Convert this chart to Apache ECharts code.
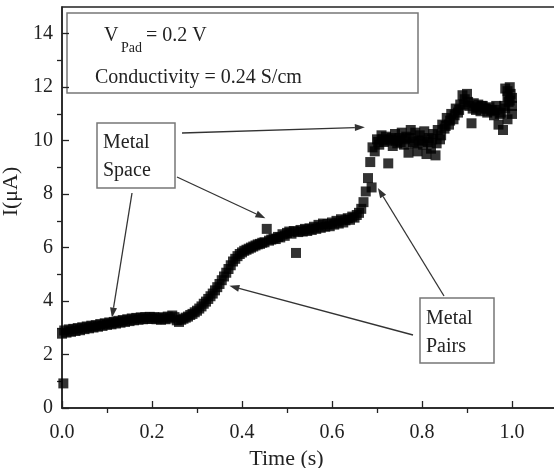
<!DOCTYPE html>
<html>
<head>
<meta charset="utf-8">
<script src="https://cdn.jsdelivr.net/npm/echarts@6/dist/echarts.min.js"></script>
<style>
  html, body { margin: 0; padding: 0; background: #fff; }
  #chart { width: 554px; height: 468px; }
</style>
</head>
<body>
<div id="chart"></div>
<script>
// time axis (s)
const timeS = [
  0, 0.005, 0.01, 0.015, 0.02, 0.025, 0.03, 0.035, 0.04, 0.045,
  0.05, 0.055, 0.06, 0.065, 0.07, 0.075, 0.08, 0.085, 0.09, 0.095,
  0.1, 0.105, 0.11, 0.115, 0.12, 0.125, 0.13, 0.135, 0.14, 0.145,
  0.15, 0.155, 0.16, 0.165, 0.17, 0.175, 0.18, 0.185, 0.19, 0.195,
  0.2, 0.205, 0.21, 0.215, 0.22, 0.225, 0.23, 0.235, 0.24, 0.245,
  0.25, 0.255, 0.26, 0.265, 0.27, 0.275, 0.28, 0.285, 0.29, 0.295,
  0.3, 0.305, 0.31, 0.315, 0.32, 0.325, 0.33, 0.335, 0.34, 0.345,
  0.35, 0.355, 0.36, 0.365, 0.37, 0.375, 0.38, 0.385, 0.39, 0.395,
  0.4, 0.405, 0.41, 0.415, 0.42, 0.425, 0.43, 0.435, 0.44, 0.445,
  0.45, 0.455, 0.46, 0.465, 0.47, 0.475, 0.48, 0.485, 0.49, 0.495,
  0.5, 0.505, 0.51, 0.515, 0.52, 0.525, 0.53, 0.535, 0.54, 0.545,
  0.55, 0.555, 0.56, 0.565, 0.57, 0.575, 0.58, 0.585, 0.59, 0.595,
  0.6, 0.605, 0.61, 0.615, 0.62, 0.625, 0.63, 0.635, 0.64, 0.645,
  0.65, 0.655, 0.66, 0.665, 0.67, 0.675, 0.68, 0.685, 0.69, 0.695,
  0.7, 0.705, 0.71, 0.715, 0.72, 0.725, 0.73, 0.735, 0.74, 0.745,
  0.75, 0.755, 0.76, 0.765, 0.77, 0.775, 0.78, 0.785, 0.79, 0.795,
  0.8, 0.805, 0.81, 0.815, 0.82, 0.825, 0.83, 0.835, 0.84, 0.845,
  0.85, 0.855, 0.86, 0.865, 0.87, 0.875, 0.88, 0.885, 0.89, 0.895,
  0.9, 0.905, 0.91, 0.915, 0.92, 0.925, 0.93, 0.935, 0.94, 0.945,
  0.95, 0.955, 0.96, 0.965, 0.97, 0.975, 0.98, 0.985, 0.99, 0.995,
  1.0,
  0.003, 0.688, 0.99, 0.997, 1.0, 0.985, 0.995, 0.99, 1.0
]
// current (uA)
const currentUA = [
  2.78, 2.90, 2.82, 2.94, 2.85, 2.96, 2.88, 2.99, 2.91, 3.02,
  2.95, 3.05, 2.98, 3.08, 3.01, 3.10, 3.04, 3.14, 3.07, 3.17,
  3.11, 3.20, 3.13, 3.22, 3.16, 3.26, 3.19, 3.29, 3.22, 3.32,
  3.25, 3.35, 3.28, 3.37, 3.30, 3.39, 3.32, 3.40, 3.33, 3.41,
  3.34, 3.40, 3.32, 3.38, 3.30, 3.39, 3.32, 3.42, 3.35, 3.46,
  3.40, 3.28, 3.22, 3.30, 3.34, 3.38, 3.42, 3.48, 3.52, 3.58,
  3.64, 3.72, 3.80, 3.90, 3.98, 4.08, 4.18, 4.28, 4.40, 4.52,
  4.64, 4.78, 4.92, 5.06, 5.20, 5.34, 5.48, 5.58, 5.68, 5.76,
  5.82, 5.88, 5.92, 5.96, 6.00, 6.04, 6.08, 6.12, 6.14, 6.18,
  6.20, 6.70, 6.26, 6.30, 6.34, 6.32, 6.40, 6.38, 6.50, 6.44,
  6.55, 6.60, 6.52, 6.62, 5.80, 6.58, 6.66, 6.60, 6.70, 6.62,
  6.72, 6.66, 6.78, 6.70, 6.85, 6.74, 6.90, 6.78, 6.88, 6.80,
  6.94, 6.86, 7.00, 6.90, 7.06, 6.94, 7.02, 7.10, 7.04, 7.16,
  7.12, 7.22, 7.30, 7.45, 7.70, 8.10, 8.60, 9.20, 9.75, 9.60,
  10.05, 9.85, 10.20, 9.95, 10.15, 9.15, 10.05, 9.80, 10.25, 9.90,
  10.10, 10.30, 9.85, 10.15, 9.55, 10.40, 9.95, 10.30, 9.60, 10.20,
  10.00, 10.35, 9.50, 10.10, 9.70, 10.25, 9.45, 10.40, 10.05, 10.60,
  10.45, 10.85, 10.60, 11.00, 10.80, 11.20, 11.05, 11.35, 11.70, 11.55,
  11.75, 11.30, 10.65, 11.40, 11.15, 11.35, 11.10, 11.30, 11.20, 11.05,
  11.25, 11.15, 10.95, 11.30, 10.60, 11.05, 10.40, 11.20, 11.85, 11.50,
  11.30,
  0.92, 8.25, 11.65, 11.75, 11.60, 11.95, 12.00, 10.80, 11.00
]

// 噪声带较宽处的补点
const fillTimeS = [
  0.7025, 0.7125, 0.7225, 0.7325, 0.7425, 0.7525, 0.7625, 0.7725, 0.7825, 0.7925,
  0.8025, 0.8125, 0.8225, 0.8325, 0.8425, 0.8525, 0.8625, 0.8725, 0.8825, 0.8925,
  0.9025, 0.9125, 0.9225, 0.9325, 0.9425, 0.9525, 0.9625, 0.9725, 0.9825, 0.9925
]
const fillCurrentUA = [
  9.95, 10.05, 10.00, 10.10, 10.00, 9.95, 10.05, 10.10, 9.90, 10.00,
  9.85, 9.95, 10.05, 9.90, 10.20, 10.55, 10.75, 10.95, 11.15, 11.35,
  11.45, 11.20, 11.25, 11.30, 11.20, 11.10, 11.15, 11.00, 11.30, 11.45
]

// 刻度
const xTicks = [0, 0.2, 0.4, 0.6, 0.8, 1.0]
const xMinorTicks = [0.1, 0.3, 0.5, 0.7, 0.9]
const yTicks = [0, 2, 4, 6, 8, 10, 12, 14]
const yMinorTicks = [1, 3, 5, 7, 9, 11, 13]

const serif = '"Liberation Serif", "DejaVu Serif", serif'
const ink = '#222'

const chart = echarts.init(document.getElementById('chart'))

const axisBase = {
  type: 'value',
  axisLine: { show: true, lineStyle: { color: ink, width: 1.5 } },
  splitLine: { show: false }
}

const points = timeS.map((t, i) => [t, currentUA[i]])
  .concat(fillTimeS.map((t, i) => [t, fillCurrentUA[i]]))

chart.setOption({
  animation: false,
  backgroundColor: '#fff',
  grid: {
    left: 62, top: 7, right: -3, bottom: 60,
    outerBoundsMode: 'none',
    show: true, borderColor: ink, borderWidth: 1.5
  },
  xAxis: [
    {
      ...axisBase,
      min: 0, max: 1.1, interval: 0.2,
      axisTick: { inside: true, length: 7, lineStyle: { color: ink, width: 1.3 }, customValues: xTicks },
      axisLabel: {
        customValues: xTicks, margin: 15,
        color: ink, fontFamily: serif, fontSize: 20,
        formatter: (v) => v.toFixed(1)
      },
      name: 'Time (s)', nameLocation: 'middle', nameGap: 38,
      nameTextStyle: { color: ink, fontFamily: serif, fontSize: 22, padding: [0, 46, 0, 0] }
    },
    {
      ...axisBase,
      min: 0, max: 1.1, interval: 0.1,
      axisLine: { show: false },
      axisTick: { inside: true, length: 5, lineStyle: { color: ink, width: 1.3 }, customValues: xMinorTicks },
      axisLabel: { show: false }
    }
  ],
  yAxis: [
    {
      ...axisBase,
      min: 0, max: 15, interval: 2,
      axisTick: { inside: true, length: 7, lineStyle: { color: ink, width: 1.3 }, customValues: yTicks },
      axisLabel: {
        customValues: yTicks, margin: 9,
        color: ink, fontFamily: serif, fontSize: 20
      },
      name: 'I(μA)', nameLocation: 'middle', nameGap: 36,
      nameTextStyle: { color: ink, fontFamily: serif, fontSize: 22, padding: [0, 0, 0, 32] }
    },
    {
      ...axisBase,
      min: 0, max: 15, interval: 1,
      axisLine: { show: false },
      axisTick: { inside: true, length: 5, lineStyle: { color: ink, width: 1.3 }, customValues: yMinorTicks },
      axisLabel: { show: false }
    }
  ],
  series: [{
    type: 'scatter',
    symbol: 'rect',
    symbolSize: 10,
    itemStyle: { color: '#000' },
    data: points
  }]
})

// 箭头：起点像素，终点取数据坐标
function arrow(x1, y1, tip) {
  const [x2, y2] = chart.convertToPixel({ xAxisIndex: 0, yAxisIndex: 0 }, tip)
  const a = Math.atan2(y2 - y1, x2 - x1)
  const L = 10, W = 3.5
  const bx = x2 - L * Math.cos(a), by = y2 - L * Math.sin(a)
  return [
    { type: 'line', shape: { x1, y1, x2: bx, y2: by }, style: { stroke: '#333', lineWidth: 1.3 } },
    {
      type: 'polygon',
      shape: { points: [[x2, y2], [bx - W * Math.sin(a), by + W * Math.cos(a)], [bx + W * Math.sin(a), by - W * Math.cos(a)]] },
      style: { fill: '#333' }
    }
  ]
}

function label(text, x, y, size) {
  return {
    type: 'text', x, y,
    style: { text, fill: ink, font: (size || 20) + 'px ' + serif, verticalAlign: 'middle' }
  }
}

const boxStyle = { fill: 'none', stroke: '#777', lineWidth: 1.5 }

chart.setOption({
  graphic: [
    { type: 'rect', shape: { x: 67, y: 13, width: 351, height: 80 }, style: boxStyle },
    label('V', 104, 36),
    label('Pad', 121, 48, 14),
    label('= 0.2 V', 146, 36),
    label('Conductivity = 0.24 S/cm', 95, 78),

    { type: 'rect', shape: { x: 97, y: 123, width: 78, height: 65 }, style: boxStyle },
    label('Metal', 103, 143),
    label('Space', 103, 171),

    { type: 'rect', shape: { x: 420, y: 298, width: 74, height: 65 }, style: boxStyle },
    label('Metal', 426, 319),
    label('Pairs', 426, 347),

    ...arrow(182, 133, [0.673, 10.5]),
    ...arrow(177, 177, [0.452, 7.1]),
    ...arrow(132, 193, [0.111, 3.38]),
    ...arrow(444, 296, [0.702, 8.23]),
    ...arrow(413, 335, [0.372, 4.57])
  ]
})
</script>
</body>
</html>
